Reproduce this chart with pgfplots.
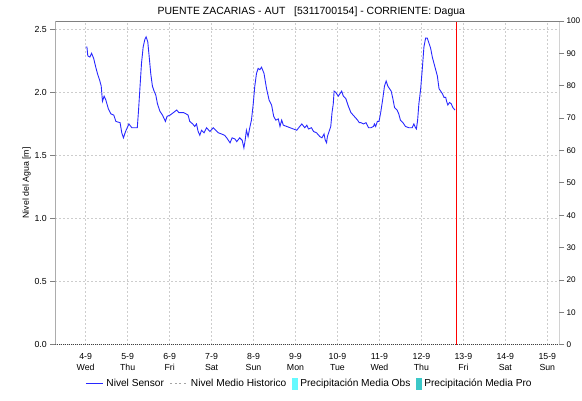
\documentclass[border=0pt]{standalone}
\usepackage{fontspec}
\setmainfont{Liberation Sans}
\usepackage{pgfplots}
\pgfplotsset{compat=1.18}
\definecolor{sensor}{RGB}{40,40,255}
\definecolor{precobs}{RGB}{100,250,255}
\definecolor{precpro}{RGB}{60,200,200}
\definecolor{gridc}{RGB}{205,205,205}
\definecolor{framec}{RGB}{128,128,128}
\begin{document}
\begin{tikzpicture}
\begin{axis}[
  at={(55.3bp,56.3bp)}, anchor=south west,
  scale only axis, width=504bp, height=323.7bp,
  xmin=-0.724, xmax=11.286, ymin=0, ymax=2.566,
  axis line style={draw=none},
  xtick={0,1,2,3,4,5,6,7,8,9,10,11},
  xticklabels={4-9\\Wed,5-9\\Thu,6-9\\Fri,7-9\\Sat,8-9\\Sun,9-9\\Mon,10-9\\Tue,11-9\\Wed,12-9\\Thu,13-9\\Fri,14-9\\Sat,15-9\\Sun},
  xticklabel style={align=center, font=\fontsize{8.8}{11.5}\selectfont},
  x tick style={draw=none},
  ytick={0,0.5,1,1.5,2,2.5},
  yticklabel style={font=\fontsize{8.8}{10}\selectfont, /pgf/number format/fixed, /pgf/number format/fixed zerofill, /pgf/number format/precision=1},
  /pgf/number format/assume math mode=true,
  ytick pos=left, tick align=outside, major tick length=5bp,
  y tick style={framec, line width=0.8bp},
  grid=major,
  major grid style={gridc, line width=0.8bp, dash pattern=on 2bp off 2bp},
  ylabel={Nivel del Agua [m]},
  ylabel style={at={(axis description cs:-0.0567,0.5)}, anchor=center, font=\fontsize{8.8}{10}\selectfont},
  title={PUENTE ZACARIAS - AUT\ \ \ [5311700154] - CORRIENTE: Dagua},
  title style={at={(axis description cs:0.508,1)}, anchor=center, yshift=3bp, font=\fontsize{10.5}{12}\selectfont},
  legend columns=4,
  legend style={at={(axis description cs:0.503,-0.12)}, anchor=center, draw=none, fill=none,
    font=\fontsize{10.2}{11}\selectfont,
    nodes={inner xsep=0.5bp, inner ysep=1bp},
    /tikz/every odd column/.append style={column sep=2.5bp},
    /tikz/every even column/.append style={column sep=5.5bp}},
  legend image code/.code={\draw[#1] (0bp,0bp) -- (17bp,0bp);},
]
\addplot[sensor, line width=0.9bp] coordinates {
(0,2.36) (0.03,2.36) (0.05,2.29) (0.10,2.28) (0.14,2.31) (0.19,2.27) (0.24,2.20) (0.28,2.15)
(0.33,2.10) (0.37,2.05) (0.40,1.93) (0.44,1.97) (0.48,1.94) (0.54,1.87) (0.60,1.83) (0.67,1.82)
(0.72,1.77) (0.82,1.76) (0.86,1.68) (0.90,1.64) (0.95,1.69) (1.03,1.75) (1.10,1.72) (1.23,1.72)
(1.26,1.86) (1.29,2.02) (1.33,2.23) (1.37,2.36) (1.41,2.42) (1.44,2.44) (1.48,2.40) (1.52,2.26)
(1.55,2.15) (1.59,2.05) (1.63,2.01) (1.67,1.98) (1.71,1.91) (1.77,1.85) (1.83,1.82) (1.90,1.77)
(1.94,1.81) (2.01,1.82) (2.09,1.84) (2.17,1.86) (2.22,1.84) (2.33,1.84) (2.39,1.83) (2.44,1.82)
(2.48,1.77) (2.55,1.75) (2.60,1.73) (2.64,1.75) (2.68,1.69) (2.72,1.66) (2.76,1.70) (2.82,1.68)
(2.88,1.72) (2.96,1.69) (3.04,1.72) (3.10,1.70) (3.16,1.68) (3.24,1.67) (3.31,1.66) (3.36,1.64)
(3.44,1.60) (3.49,1.64) (3.56,1.63) (3.60,1.61) (3.67,1.64) (3.73,1.62) (3.77,1.56) (3.80,1.62)
(3.83,1.70) (3.87,1.65) (3.91,1.72) (3.95,1.78) (3.99,1.90) (4.03,2.05) (4.07,2.15) (4.11,2.19)
(4.15,2.18) (4.19,2.20) (4.25,2.15) (4.31,2.03) (4.37,1.94) (4.43,1.90) (4.48,1.81) (4.53,1.78)
(4.59,1.79) (4.63,1.73) (4.67,1.78) (4.71,1.74) (4.79,1.73) (4.87,1.72) (4.95,1.71) (5.03,1.70)
(5.10,1.73) (5.15,1.75) (5.22,1.72) (5.27,1.74) (5.31,1.71) (5.38,1.72) (5.43,1.69) (5.50,1.68)
(5.58,1.65) (5.63,1.64) (5.68,1.67) (5.71,1.62) (5.74,1.60) (5.76,1.65) (5.80,1.69) (5.84,1.73)
(5.87,1.84) (5.90,1.91) (5.92,2.01) (5.96,2.00) (6.02,1.97) (6.06,1.99) (6.10,2.01) (6.14,1.97)
(6.20,1.95) (6.26,1.89) (6.32,1.84) (6.40,1.81) (6.48,1.78) (6.52,1.76) (6.56,1.76) (6.62,1.75)
(6.68,1.76) (6.74,1.72) (6.80,1.72) (6.86,1.73) (6.88,1.75) (6.91,1.73) (6.95,1.77) (6.99,1.77)
(7.03,1.84) (7.08,1.95) (7.12,2.05) (7.16,2.09) (7.20,2.05) (7.24,2.03) (7.28,2.01) (7.32,1.95)
(7.36,1.88) (7.42,1.86) (7.46,1.83) (7.50,1.78) (7.56,1.76) (7.62,1.73) (7.70,1.72) (7.78,1.72)
(7.82,1.75) (7.86,1.72) (7.88,1.71) (7.91,1.78) (7.94,1.91) (7.98,2.02) (8.02,2.18) (8.06,2.36)
(8.10,2.43) (8.14,2.43) (8.18,2.39) (8.22,2.35) (8.26,2.28) (8.30,2.23) (8.34,2.18) (8.38,2.13)
(8.42,2.03) (8.46,2.01) (8.50,1.99) (8.54,1.96) (8.58,1.96) (8.60,1.93) (8.63,1.90) (8.67,1.92)
(8.71,1.91) (8.75,1.88) (8.80,1.86)
};
\addlegendentry{Nivel Sensor}
\addlegendimage{gridc!80!black, line width=0.9bp, dash pattern=on 2bp off 2.5bp}
\addlegendentry{Nivel Medio Historico}
\addlegendimage{legend image code/.code={\fill[precobs] (0bp,-5.5bp) rectangle (4.5bp,5.5bp);}}
\addlegendentry{Precipitación Media Obs}
\addlegendimage{legend image code/.code={\fill[precpro] (0bp,-5.5bp) rectangle (4.5bp,5.5bp);}}
\addlegendentry{Precipitación Media Pro}
\addplot[red, line width=1bp, forget plot] coordinates {(8.825,0) (8.825,2.566)};
\draw[framec, line width=0.8bp] (rel axis cs:0,0) -- (rel axis cs:0,1) -- (rel axis cs:1,1) -- (rel axis cs:1,0);
\draw[black!75, line width=0.8bp, dash pattern=on 1bp off 1bp] (rel axis cs:0,0) -- (rel axis cs:1,0);
\end{axis}
\begin{axis}[
  at={(55.3bp,56.3bp)}, anchor=south west,
  scale only axis, width=504bp, height=323.7bp,
  xmin=-0.724, xmax=11.286, ymin=0, ymax=100,
  axis line style={draw=none},
  xtick=\empty,
  ytick={0,10,...,100},
  ytick pos=right, tick align=outside, major tick length=5bp,
  y tick style={framec, line width=0.8bp},
  yticklabel style={font=\fontsize{8.2}{10}\selectfont, xshift=0.5bp, inner xsep=1.5bp},
  /pgf/number format/assume math mode=true,
]
\end{axis}
\pgfresetboundingbox
\path[use as bounding box] (0,0) rectangle (582bp,401bp);
\end{tikzpicture}
\end{document}
